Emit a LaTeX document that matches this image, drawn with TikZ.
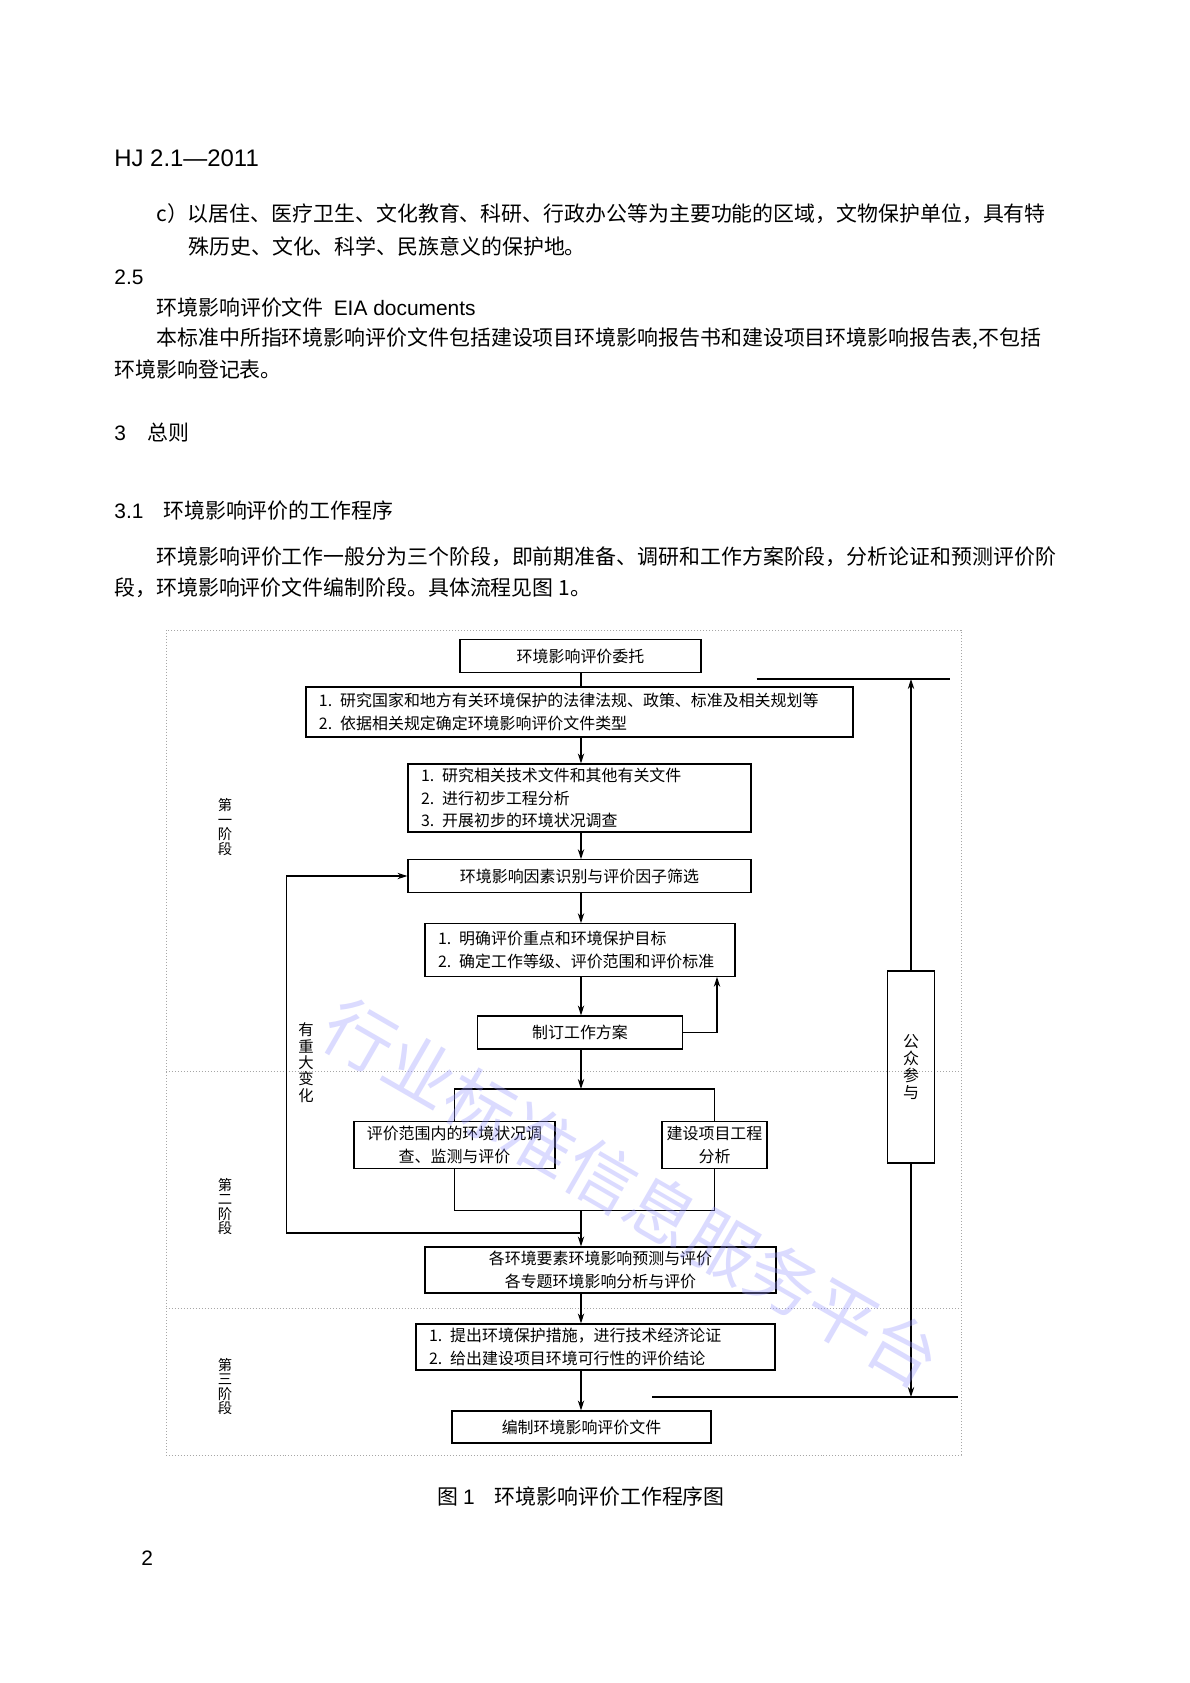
\documentclass[tikz,border=0pt]{standalone}
\usepackage{fontspec}
\setmainfont{Liberation Sans}
\newfontfamily\cjk{Noto Sans CJK SC}
\usetikzlibrary{arrows.meta}
\newcommand{\chartfont}{\cjk\fontsize{8}{11.3}\selectfont}
\newcommand{\bodyfont}{\cjk\fontsize{10.5}{15}\selectfont}

\begin{document}
\begin{tikzpicture}[x=0.5bp,y=-0.5bp,
  box/.style={draw,line width=0.6pt,inner sep=0pt,align=center,font=\chartfont},
  listbox/.style={draw,line width=0.6pt,inner xsep=6.5bp,inner ysep=0pt,align=left,font=\chartfont},
  arr/.style={-{Stealth[length=5pt,width=3.2pt]},line width=0.6pt},
  link/.style={line width=0.6pt},
  frame/.style={draw=gray!70,densely dotted,line width=0.5pt},
  bodytext/.style={anchor=west,inner sep=0pt,font=\bodyfont},
  stagelabel/.style={inner sep=0pt,align=center,font=\cjk\fontsize{7.2}{7.3}\selectfont}]
  \useasboundingbox[fill=white] (0,0) rectangle (1190,1683);

  % page text
  \node[anchor=west,inner sep=0pt,font=\fontsize{12}{14}\selectfont] (hdr) at (114,158) {HJ 2.1—2011};
  \node[bodytext] (t1) at (156,213.5) {c）以居住、医疗卫生、文化教育、科研、行政办公等为主要功能的区域，文物保护单位，具有特};
  \node[bodytext] (t2) at (188,246) {殊历史、文化、科学、民族意义的保护地。};
  \node[anchor=west,inner sep=0pt,font=\fontsize{10.5}{12}\selectfont] (t3) at (114,277) {2.5};
  \node[bodytext] (t4) at (156,308) {环境影响评价文件\hspace{5bp}{\fontspec{Liberation Sans}EIA documents}};
  \node[bodytext] (t5) at (156,339) {本标准中所指环境影响评价文件包括建设项目环境影响报告书和建设项目环境影响报告表,不包括};
  \node[bodytext] (t6) at (114,370) {环境影响登记表。};
  \node[bodytext] (h3) at (114,432.5) {{\fontspec{Liberation Sans}3}\hspace{10.6bp}总则};
  \node[bodytext] (h31) at (114,511) {{\fontspec{Liberation Sans}3.1}\hspace{9.9bp}环境影响评价的工作程序};
  \node[bodytext] (t7) at (156,557) {环境影响评价工作一般分为三个阶段，即前期准备、调研和工作方案阶段，分析论证和预测评价阶};
  \node[bodytext] (t8) at (114,588) {段，环境影响评价文件编制阶段。具体流程见图 1。};

  % frame and stage dividers
  \draw[frame] (166,630) rectangle (961,1455);
  \draw[frame] (166,1071) -- (961,1071);
  \draw[frame] (166,1308) -- (961,1308);
  \node[stagelabel] (s1) at (225,827) {第\\一\\阶\\段};
  \node[stagelabel] (s2) at (225,1206.5) {第\\二\\阶\\段};
  \node[stagelabel] (s3) at (225,1386.5) {第\\三\\阶\\段};

  % boxes
  \node[box,minimum width=120.5bp,minimum height=16.25bp] (A) at (580.5,656) {环境影响评价委托};
  \node[listbox,text width=260.5bp,minimum height=25bp] (B) at (579.5,712)
    {1.\enspace 研究国家和地方有关环境保护的法律法规、政策、标准及相关规划等\\2.\enspace 依据相关规定确定环境影响评价文件类型};
  \node[listbox,text width=158.5bp,minimum height=34bp] (C) at (579.5,798)
    {1.\enspace 研究相关技术文件和其他有关文件\\2.\enspace 进行初步工程分析\\3.\enspace 开展初步的环境状况调查};
  \node[box,minimum width=171.5bp,minimum height=16.25bp] (D) at (579.5,876) {环境影响因素识别与评价因子筛选};
  \node[listbox,text width=142bp,minimum height=26.25bp] (E) at (580,950)
    {1.\enspace 明确评价重点和环境保护目标\\2.\enspace 确定工作等级、评价范围和评价标准};
  \node[box,minimum width=102.25bp,minimum height=16.5bp] (F) at (580,1032.5) {制订工作方案};
  \node[box,minimum width=100.5bp,minimum height=23.75bp] (G) at (454.5,1145) {评价范围内的环境状况调\\查、监测与评价};
  \node[box,minimum width=52.5bp,minimum height=23.75bp] (H) at (714.5,1145) {建设项目工程\\分析};
  \node[box,minimum width=175.5bp,minimum height=23bp] (I) at (600.5,1270) {各环境要素环境影响预测与评价\\各专题环境影响分析与评价};
  \node[listbox,text width=166.5bp,minimum height=23bp] (J) at (595.5,1347)
    {1.\enspace 提出环境保护措施，进行技术经济论证\\2.\enspace 给出建设项目环境可行性的评价结论};
  \node[box,minimum width=129.5bp,minimum height=16bp] (K) at (581.5,1427) {编制环境影响评价文件};
  \node[box,minimum width=23.75bp,minimum height=96bp,font=\cjk\fontsize{8}{8.6}\selectfont] (L) at (911,1067) {公\\众\\参\\与};

  % helper points
  \coordinate (spine) at (581,0);
  \coordinate (fb) at (717,0);
  \coordinate (split) at (581,1089);
  \coordinate (merge) at (581,1210.5);
  \coordinate (loop) at (286.5,1233);
  \coordinate (pubTL) at (756.5,679);
  \coordinate (pubTR) at (950,679);
  \coordinate (pubBL) at (652,1397);
  \coordinate (pubBR) at (958,1397);

  % main flow
  \draw[link] (A.south -| spine) -- (B.north -| spine);
  \draw[arr] (B.south -| spine) -- (C.north -| spine);
  \draw[arr] (C.south -| spine) -- (D.north -| spine);
  \draw[arr] (D.south -| spine) -- (E.north -| spine);
  \draw[arr] (E.south -| spine) -- (F.north -| spine);
  \draw[arr] (F.east) -| (E.south -| fb);
  \draw[arr] (F.south -| spine) -- (split);
  \draw[link] (G.north) |- (split) -| (H.north);
  \draw[link] (G.south) |- (merge) -| (H.south);
  \draw[arr] (merge) -- (I.north -| spine);
  \draw[arr] (spine |- loop) -- (loop) |- (D.west);
  \node[stagelabel,font=\cjk\fontsize{7.7}{8.2}\selectfont] (chg) at (306,1062.5) {有\\重\\大\\变\\化};
  \draw[arr] (I.south -| spine) -- (J.north -| spine);
  \draw[arr] (J.south -| spine) -- (K.north -| spine);

  % public participation
  \draw[link] (pubTL) -- (pubTR);
  \draw[arr] (L.north) -- (L.north |- pubTL);
  \draw[link] (pubBL) -- (pubBR);
  \draw[arr] (L.south) -- (L.south |- pubBL);

  % caption and page number
  \node[anchor=west,inner sep=0pt,font=\bodyfont] (cap) at (437,1497) {图 {\fontspec{Liberation Sans}1}\hspace{10bp}环境影响评价工作程序图};
  \node[anchor=west,inner sep=0pt,font=\fontsize{10.5}{12}\selectfont] (pg) at (141,1558) {2};

  % watermark
  \node[rotate=-30,text=blue!40,opacity=0.35,font=\cjk\fontsize{35}{35}\selectfont] (wm) at (632,1193) {行业标准信息服务平台};
\end{tikzpicture}
\end{document}
